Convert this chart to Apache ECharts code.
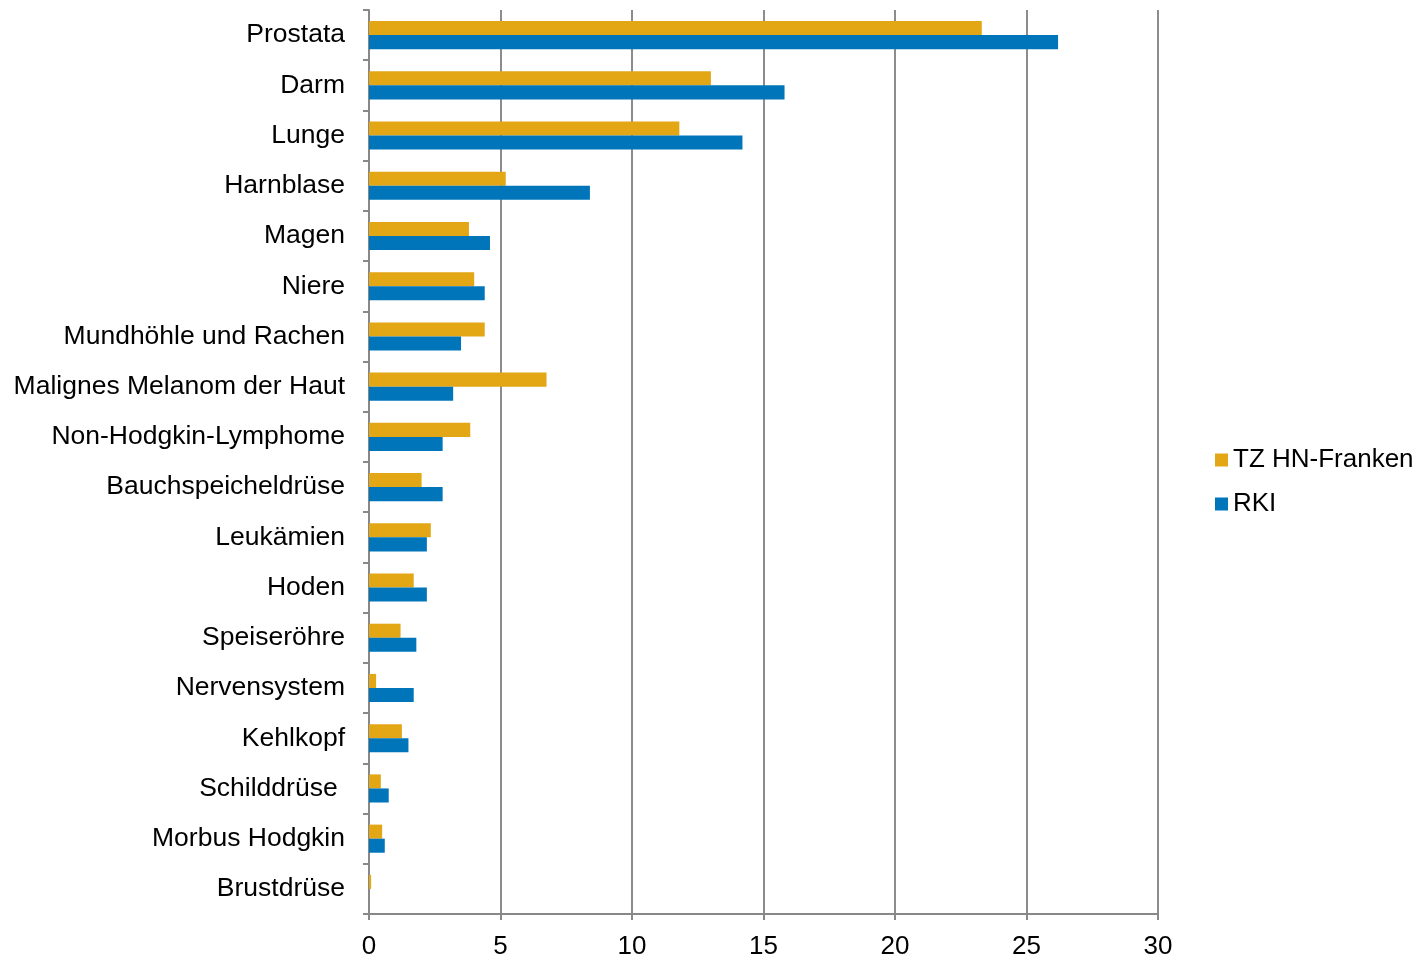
<!DOCTYPE html>
<html>
<head>
<meta charset="utf-8">
<script src="https://cdn.jsdelivr.net/npm/echarts@6/dist/echarts.min.js"></script>
<style>
  html, body { margin: 0; padding: 0; background: #fff; }
  #chart { width: 1425px; height: 958px; }
</style>
</head>
<body>
<div id="chart"></div>
<script>
const categories = [
  'Prostata', 'Darm', 'Lunge', 'Harnblase', 'Magen', 'Niere',
  'Mundhöhle und Rachen', 'Malignes Melanom der Haut', 'Non-Hodgkin-Lymphome',
  'Bauchspeicheldrüse', 'Leukämien', 'Hoden', 'Speiseröhre', 'Nervensystem',
  'Kehlkopf', 'Schilddrüse ', 'Morbus Hodgkin', 'Brustdrüse'
];
const tzValues = [23.3, 13.0, 11.8, 5.2, 3.8, 4.0, 4.4, 6.75, 3.85, 2.0, 2.35, 1.7, 1.2, 0.27, 1.25, 0.45, 0.5, 0.08];
const rkiValues = [26.2, 15.8, 14.2, 8.4, 4.6, 4.4, 3.5, 3.2, 2.8, 2.8, 2.2, 2.2, 1.8, 1.7, 1.5, 0.75, 0.6, 0];

const font = "'Liberation Sans', Arial, sans-serif";

const chart = echarts.init(document.getElementById('chart'));
const option = {
  animation: false,
  textStyle: { fontFamily: font },
  legend: {
    orient: 'vertical',
    left: 1210,
    top: 442,
    itemWidth: 13,
    itemHeight: 13,
    itemGap: 18,
    icon: 'rect',
    textStyle: { fontSize: 26, color: '#000', fontFamily: font },
    data: ['TZ HN-Franken', 'RKI']
  },
  grid: { left: 369, right: 267, top: 10, bottom: 44, containLabel: false, outerBoundsMode: 'none' },
  xAxis: {
    type: 'value',
    min: 0,
    max: 30,
    interval: 5,
    axisLine: { show: true, lineStyle: { color: '#888', width: 2 } },
    axisTick: { show: true, length: 6, lineStyle: { color: '#888', width: 2 } },
    axisLabel: { fontSize: 26, color: '#000', margin: 20, fontFamily: font },
    splitLine: { show: true, lineStyle: { color: '#8c8c8c', width: 2 } }
  },
  yAxis: {
    type: 'category',
    inverse: true,
    data: categories,
    axisLine: { show: true, lineStyle: { color: '#888', width: 2 } },
    axisTick: { show: true, length: 6, lineStyle: { color: '#888', width: 2 } },
    axisLabel: { fontSize: 26.5, color: '#000', margin: 24, fontFamily: font, padding: [4, 0, 0, 0] }
  },
  series: [
    {
      name: 'TZ HN-Franken',
      type: 'bar',
      data: tzValues,
      barGap: '0%',
      barCategoryGap: '44%',
      itemStyle: { color: '#E3A614' }
    },
    {
      name: 'RKI',
      type: 'bar',
      data: rkiValues,
      barGap: '0%',
      barCategoryGap: '44%',
      itemStyle: { color: '#0075BA' }
    }
  ]
};
chart.setOption(option);
</script>
</body>
</html>
